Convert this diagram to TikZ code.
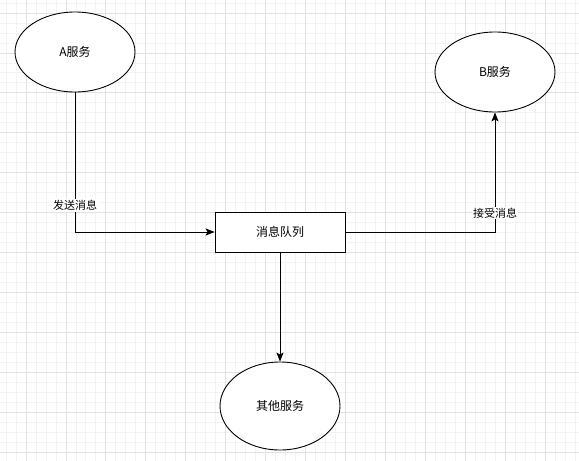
\documentclass[tikz,border=0pt]{standalone}
\usepackage{fontspec}
\setmainfont{Liberation Sans}
\newfontfamily\cjk{Noto Sans CJK SC}
\usetikzlibrary{arrows.meta,shapes.geometric}
\definecolor{gridminor}{HTML}{F3F3F3}
\definecolor{gridmajor}{HTML}{E2E2E2}
\tikzset{
  svc/.style={ellipse,draw=black,line width=0.9pt,fill=white,minimum width=120pt,minimum height=80pt,inner sep=0pt,font=\cjk\fontsize{12}{14}\selectfont},
  queue/.style={rectangle,draw=black,line width=0.9pt,fill=white,minimum width=130pt,minimum height=40pt,inner sep=0pt,font=\cjk\fontsize{12}{14}\selectfont},
  conn/.style={draw=black,line width=0.9pt,-{Stealth[length=9pt,width=7pt,inset=2pt]}},
  elabel/.style={fill=white,inner sep=1pt,font=\cjk\fontsize{11}{13}\selectfont}
}
\begin{document}
\begin{tikzpicture}[x=1pt,y=-1pt]
\useasboundingbox (0,0) rectangle (579,461);
\fill[white] (0,0) rectangle (579,461);
% grid
\foreach \i in {-3,...,58} {
  \draw[gridminor,line width=0.8pt] ({26+9.98*\i},0) -- ({26+9.98*\i},461);
}
\foreach \i in {-2,...,45} {
  \draw[gridminor,line width=0.8pt] (0,{13+9.98*\i}) -- (579,{13+9.98*\i});
}
\foreach \i in {0,...,14} {
  \draw[gridmajor,line width=0.8pt] ({26+39.92*\i},0) -- ({26+39.92*\i},461);
}
\foreach \i in {0,...,11} {
  \draw[gridmajor,line width=0.8pt] (0,{13+39.92*\i}) -- (579,{13+39.92*\i});
}
% nodes
\node[svc] (A) at (75,52) {A服务};
\node[svc] (B) at (495,72) {B服务};
\node[queue] (Q) at (280,232) {消息队列};
\node[svc,minimum height=88pt] (O) at (280,406) {其他服务};
% connectors
\draw[conn] (A.south) |- (Q.west) node[elabel,pos=0.405] {发送消息};
\draw[conn] (Q.east) -| (B.south) node[elabel,pos=0.579] {接受消息};
\draw[conn] (Q.south) -- (O.north);
\end{tikzpicture}
\end{document}
